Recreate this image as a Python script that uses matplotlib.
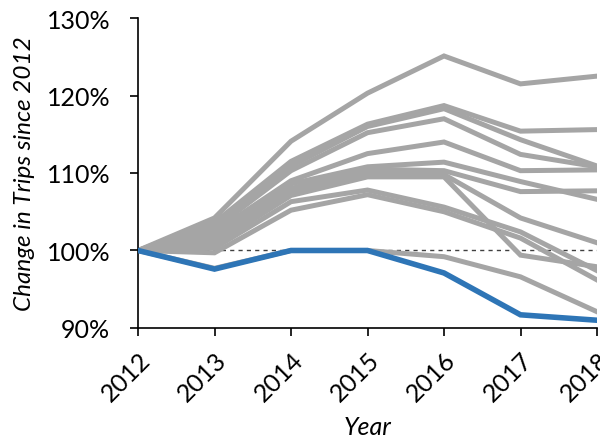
import matplotlib
matplotlib.use("Agg")
import matplotlib.pyplot as plt
from matplotlib.ticker import FuncFormatter

plt.rcParams['font.family'] = ['Lato', 'DejaVu Sans']

years = [2012, 2013, 2014, 2015, 2016, 2017, 2018]

# trips relative to 2012 (%), one list per comparison city
others = [
    [100, 104.2, 114.1, 120.3, 125.1, 121.5, 122.5],
    [100, 103.6, 111.5, 116.3, 118.7, 115.4, 115.6],
    [100, 103.2, 110.9, 116.0, 118.3, 114.3, 110.9],
    [100, 102.8, 110.3, 115.2, 117.0, 112.4, 110.8],
    [100, 102.4, 109.0, 112.5, 114.0, 110.3, 110.4],
    [100, 102.0, 108.6, 110.8, 111.4, 108.9, 106.6],
    [100, 101.6, 108.0, 110.5, 110.3, 107.6, 107.7],
    [100, 101.2, 107.6, 110.0, 109.8, 104.2, 101.0],
    [100, 100.8, 107.1, 109.5, 109.5, 99.4, 97.9],
    [100, 100.3, 106.3, 107.8, 105.6, 102.4, 97.4],
    [100, 99.7, 105.2, 107.2, 105.0, 101.6, 96.2],
    [100, 97.7, 100.0, 100.0, 99.2, 96.6, 92.1],
]
highlight = [100, 97.6, 100.0, 100.0, 97.1, 91.7, 91.0]

fig = plt.figure(figsize=(6.0, 4.39), dpi=100)
ax = fig.add_axes([0.23, 0.2506, 0.765, 0.7061])

ax.axhline(100, color='#404040', lw=1.0, ls=(0, (3, 3)), zorder=1)
for vals in others:
    ax.plot(years, vals, color='#A5A5A5', lw=3.6, zorder=2,
            solid_joinstyle='miter')
ax.plot(years, highlight, color='#2E75B6', lw=4.0, zorder=3,
        solid_joinstyle='miter')

ax.set_xlim(2012, 2018)
ax.set_ylim(90, 130)
ax.set_xticks(years)
ax.set_yticks([90, 100, 110, 120, 130])
ax.yaxis.set_major_formatter(FuncFormatter(lambda v, p: f"{v:.0f}%"))

for side in ['top', 'right']:
    ax.spines[side].set_visible(False)
for side in ['left', 'bottom']:
    ax.spines[side].set_linewidth(1.2)
    ax.spines[side].set_color('black')

ax.tick_params(axis='both', direction='out', length=6, width=1.2,
               labelsize=18, colors='black')
ax.tick_params(axis='y', pad=14)
ax.tick_params(axis='x', pad=8)
plt.setp(ax.get_xticklabels(), rotation=45, ha='right', va='top',
         rotation_mode='anchor')

ax.set_xlabel('Year', fontsize=18, style='italic', labelpad=7)
ax.set_ylabel('Change in Trips since 2012', fontsize=17.5, style='italic',
              labelpad=8)

fig.savefig('out.png', dpi=100)
